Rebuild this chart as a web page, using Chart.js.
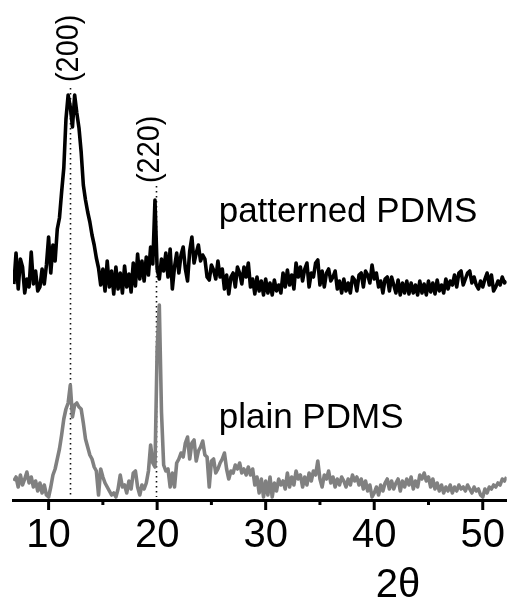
<!DOCTYPE html>
<html>
<head>
<meta charset="utf-8">
<script src="https://cdn.jsdelivr.net/npm/chart.js@4.4.1/dist/chart.umd.min.js"></script>
<style>
  html, body { margin: 0; padding: 0; background: #fff; }
</style>
</head>
<body>
<canvas id="xrd" width="517" height="601"></canvas>
<script>
// scan: 2θ from 6.8° in 0.2° steps
const startAngle = 6.8;
const stepAngle = 0.2;

// patterned PDMS (offset upward), one row per degree
const patterned = [
  215,
  246, 210, 240, 232, 206,   // 7
  220, 212, 247, 215, 228,   // 8
  208, 212, 230, 215, 234,   // 9
  262, 226, 254, 238, 270,   // 10
  281, 307, 331, 380, 404,   // 11
  392, 372, 404, 386, 371,   // 12
  347, 314, 299, 287, 277,   // 13
  264, 254, 241, 231, 214,   // 14
  230, 208, 238, 212, 228,   // 15
  205, 232, 210, 226, 206,   // 16
  233, 212, 225, 207, 236,   // 17
  213, 245, 220, 238, 218,   // 18
  242, 224, 252, 235, 299,   // 19
  230, 220, 240, 228, 246,   // 20
  222, 250, 210, 232, 246,   // 21
  226, 244, 252, 230, 218,   // 22
  248, 262, 236, 246, 254,   // 23
  238, 244, 240, 222, 219,   // 24
  234, 229, 220, 238, 222,   // 25
  230, 210, 224, 205, 222,   // 26
  226, 212, 232, 226, 215,   // 27
  232, 222, 236, 212, 220,   // 28
  205, 222, 208, 218, 204,   // 29
  220, 206, 216, 204, 219,   // 30
  208, 214, 206, 226, 212,   // 31
  229, 214, 224, 210, 236,   // 32
  222, 232, 218, 230, 236,   // 33
  212, 226, 222, 236, 239,   // 34
  214, 228, 212, 226, 230,   // 35
  218, 222, 228, 210, 218,   // 36
  206, 220, 208, 216, 206,   // 37
  222, 219, 208, 224, 226,   // 38
  212, 228, 224, 216, 234,   // 39
  220, 226, 212, 218, 206,   // 40
  220, 222, 208, 222, 214,   // 41
  206, 219, 204, 216, 206,   // 42
  218, 205, 216, 206, 214,   // 43
  204, 218, 206, 215, 204,   // 44
  218, 207, 216, 205, 219,   // 45
  208, 214, 206, 220, 210,   // 46
  218, 214, 224, 212, 226,   // 47
  228, 214, 220, 226, 228,   // 48
  216, 222, 214, 210, 218,   // 49
  212, 220, 226, 214, 224,   // 50
  208, 212, 218, 214, 222,   // 51
  216, 218
];

// plain PDMS
const plain = [
  18,
  22, 12, 24, 14, 20,   // 7
  27, 16, 22, 12, 18,   // 8
  8, 16, 6, 14, 4,      // 9
  2, 12, 24, 30, 40,    // 10
  50, 64, 80, 90, 96,   // 11
  114, 82, 94, 96, 92,  // 12
  90, 76, 60, 52, 44,   // 13
  40, 32, 28, 4, 30,    // 14
  22, 16, 12, 8, 4,     // 15
  6, 2, 10, 24, 12,     // 16
  14, 6, 18, 10, 26,    // 17
  28, 12, 4, 14, 10,    // 18
  16, 28, 54, 36, 32,   // 19
  150, 194, 87, 34, 28, // 20
  30, 12, 26, 12, 36,   // 21
  40, 46, 42, 56, 62,   // 22
  40, 56, 59, 38, 48,   // 23
  52, 58, 44, 42, 12,   // 24
  38, 40, 26, 30, 36,   // 25
  40, 46, 30, 20, 28,   // 26
  26, 34, 30, 36, 26,   // 27
  30, 24, 32, 24, 30,   // 28
  14, 22, 6, 20, 2,     // 29
  18, 4, 22, 2, 16,     // 30
  8, 20, 14, 18, 10,    // 31
  26, 12, 22, 14, 28,   // 32
  20, 24, 12, 22, 14,   // 33
  26, 18, 28, 24, 38,   // 34
  20, 12, 24, 20, 28,   // 35
  16, 22, 12, 20, 14,   // 36
  22, 18, 12, 20, 14,   // 37
  24, 18, 22, 14, 20,   // 38
  10, 18, 8, 14, 2,     // 39
  6, 12, 4, 14, 8,      // 40
  16, 20, 10, 18, 10,   // 41
  16, 20, 8, 18, 12,    // 42
  20, 14, 22, 10, 18,   // 43
  12, 24, 20, 26, 18,   // 44
  22, 12, 20, 10, 16,   // 45
  8, 14, 6, 12, 8,      // 46
  14, 6, 12, 8, 14,     // 47
  10, 12, 8, 14, 10,    // 48
  6, 12, 8, 10, 4,      // 49
  2, 10, 6, 12, 10,     // 50
  14, 12, 16, 14, 20,   // 51
  18, 22
];

const majorTicks = [10, 20, 30, 40, 50];
const minorTicks = [15, 25, 35, 45];

// reflections: dotted guide positions and their labels
const peakAngles = [12.0, 19.9];
const peakNames = ['(200)', '(220)'];
const sampleNames = ['patterned PDMS', 'plain PDMS'];
const axisTitle = '2θ';

const FONT = '"Liberation Sans", Arial, sans-serif';

function toPoints(values) {
  return values.map((v, i) => ({ x: +(startAngle + i * stepAngle).toFixed(1), y: v }));
}

const extras = {
  id: 'extras',
  beforeDatasetsDraw(chart) {
    const { ctx, scales: { x, y } } = chart;
    const tops = [411, 313];
    ctx.save();
    ctx.strokeStyle = '#111';
    ctx.lineWidth = 1.6;
    ctx.setLineDash([1.6, 3.4]);
    peakAngles.forEach((a, i) => {
      const px = Math.round(x.getPixelForValue(a)) + 0.5;
      ctx.beginPath();
      ctx.moveTo(px, y.getPixelForValue(tops[i]));
      ctx.lineTo(px, y.getPixelForValue(2));
      ctx.stroke();
    });
    ctx.restore();
  },
  afterDraw(chart) {
    const { ctx, scales: { x, y } } = chart;
    const base = chart.chartArea.bottom;
    ctx.save();

    // tick marks below the axis
    ctx.strokeStyle = '#000';
    ctx.lineWidth = 3;
    majorTicks.forEach(v => {
      const px = x.getPixelForValue(v);
      ctx.beginPath(); ctx.moveTo(px, base); ctx.lineTo(px, base + 10); ctx.stroke();
    });
    minorTicks.forEach(v => {
      const px = x.getPixelForValue(v);
      ctx.beginPath(); ctx.moveTo(px, base); ctx.lineTo(px, base + 5); ctx.stroke();
    });

    ctx.fillStyle = '#000';

    // reflection labels, rotated
    const labelAt = [[11.95, 417], [19.35, 316]];
    ctx.font = '31px ' + FONT;
    ctx.textAlign = 'left';
    ctx.textBaseline = 'middle';
    peakNames.forEach((t, i) => {
      ctx.save();
      ctx.translate(x.getPixelForValue(labelAt[i][0]), y.getPixelForValue(labelAt[i][1]));
      ctx.rotate(-Math.PI / 2);
      ctx.scale(0.93, 1);
      ctx.fillText(t, 0, 0);
      ctx.restore();
    });

    // sample names
    ctx.font = '35px ' + FONT;
    ctx.textBaseline = 'alphabetic';
    ctx.fillText(sampleNames[0], x.getPixelForValue(25.67), y.getPixelForValue(277));
    ctx.fillText(sampleNames[1], x.getPixelForValue(25.67), y.getPixelForValue(71));

    // axis title
    ctx.font = '40px ' + FONT;
    ctx.textAlign = 'center';
    ctx.fillText(axisTitle, x.getPixelForValue(42.18), 597);

    ctx.restore();
  }
};

new Chart(document.getElementById('xrd'), {
  type: 'line',
  data: {
    datasets: [
      {
        label: sampleNames[1],
        data: toPoints(plain),
        borderColor: '#808080',
        borderWidth: 3.6,
        pointRadius: 0,
        borderJoinStyle: 'round',
        tension: 0
      },
      {
        label: sampleNames[0],
        data: toPoints(patterned),
        borderColor: '#000000',
        borderWidth: 3.6,
        pointRadius: 0,
        borderJoinStyle: 'round',
        tension: 0
      }
    ]
  },
  options: {
    responsive: false,
    devicePixelRatio: 1,
    animation: false,
    layout: { padding: { left: 13, right: 0, top: 0, bottom: 0 } },
    plugins: { legend: { display: false }, tooltip: { enabled: false } },
    scales: {
      x: {
        type: 'linear',
        min: 6.72,
        max: 52.2,
        afterBuildTicks: s => { s.ticks = majorTicks.map(v => ({ value: v })); },
        afterFit: s => { s.height = 101; },
        grid: { display: false, drawTicks: false },
        border: { display: true, color: '#000', width: 3 },
        ticks: {
          color: '#000',
          font: { family: FONT, size: 40 },
          padding: 12,
          maxRotation: 0,
          autoSkip: false
        }
      },
      y: { display: false, min: -1, max: 499 }
    }
  },
  plugins: [extras]
});
</script>
</body>
</html>
